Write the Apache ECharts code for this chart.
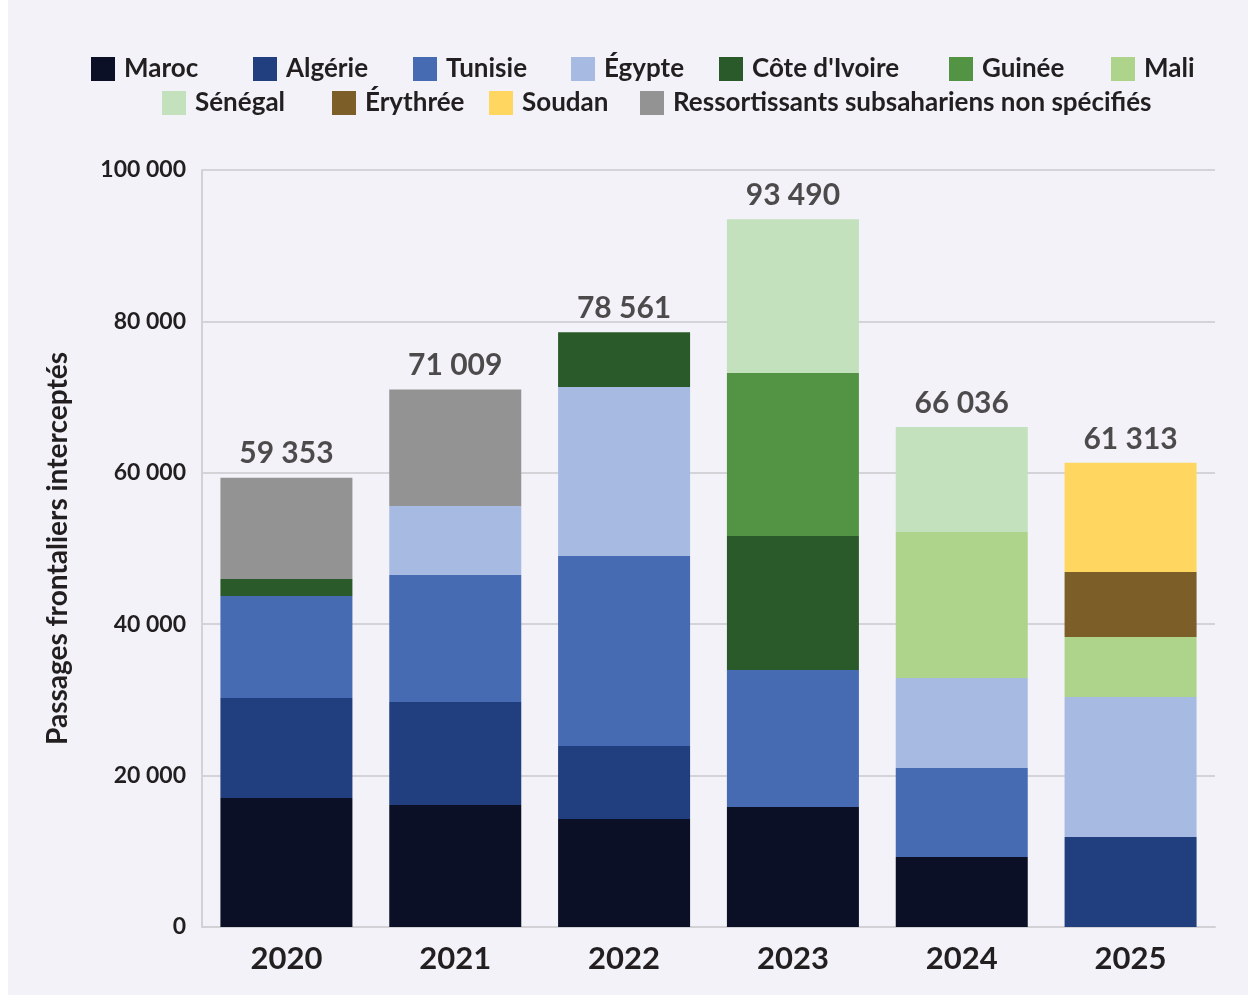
<!DOCTYPE html>
<html>
<head>
<meta charset="utf-8">
<script src="https://cdn.jsdelivr.net/npm/echarts@6/dist/echarts.min.js"></script>
<style>
  html, body { margin: 0; padding: 0; background: #ffffff; }
  #main { position: absolute; left: 8px; top: 0; width: 1240px; height: 995px; background: #f2f2f8; }
</style>
</head>
<body>
<div id="main"></div>
<script>
// years and totals
var years = ['2020', '2021', '2022', '2023', '2024', '2025'];
var totals = [59353, 71009, 78561, 93490, 66036, 61313];

// series values, bottom to top of the stack
var maroc = [17040, 16120, 14270, 15850, 9250, 0];
var algerie = [13210, 13610, 9640, 0, 0, 11890];
var tunisie = [13470, 16780, 25100, 18100, 11760, 0];
var egypte = [0, 9110, 22320, 0, 11890, 18490];
var coteIvoire = [2250, 0, 7230, 17700, 0, 0];
var guinee = [0, 0, 0, 21530, 0, 0];
var mali = [0, 0, 0, 0, 19290, 7930];
var senegal = [0, 0, 0, 20310, 13860, 0];
var erythree = [0, 0, 0, 0, 0, 8590];
var soudan = [0, 0, 0, 0, 0, 14420];
var nonSpecifies = [13380, 15400, 0, 0, 0, 0];

var names = ['Maroc', 'Algérie', 'Tunisie', 'Égypte', "Côte d'Ivoire", 'Guinée', 'Mali',
  'Sénégal', 'Érythrée', 'Soudan', 'Ressortissants subsahariens non spécifiés'];
var values = [maroc, algerie, tunisie, egypte, coteIvoire, guinee, mali,
  senegal, erythree, soudan, nonSpecifies];
var colors = ['#0c1027', '#213e7e', '#466bb3', '#a7bbe2', '#2b5a2a', '#529443', '#aed48c',
  '#c3e1bc', '#7b5e28', '#ffd65f', '#939393'];

// legend item positions (icon left, row top) inside the chart div
var legendLeft = [83, 245, 405, 563, 711, 941, 1103, 154, 324, 481, 632];
var legendTop = [56, 56, 56, 56, 56, 56, 56, 90, 90, 90, 90];

var font = 'Lato, "Noto Sans", sans-serif';
var txt = '#231f20';

function fmt(v) {
    return String(v).replace(/\B(?=(\d{3})+(?!\d))/g, ' ');
}

var chart = echarts.init(document.getElementById('main'));

var series = names.map(function (n, i) {
    return {
        name: n,
        type: 'bar',
        stack: 'total',
        barWidth: 132,
        itemStyle: { color: colors[i] },
        data: values[i].map(function (v) { return v === 0 ? null : v; })
    };
});
series.push({
    name: 'Total',
    type: 'scatter',
    symbolSize: 0,
    silent: true,
    label: {
        show: true,
        position: 'top',
        distance: 9,
        fontFamily: font,
        fontWeight: 'bold',
        fontSize: 30,
        color: txt,
        formatter: function (p) { return fmt(p.value); }
    },
    data: totals
});

var option = {
    animation: false,
    legend: names.map(function (n, i) {
        return {
            data: [n],
            left: legendLeft[i],
            top: legendTop[i],
            padding: 0,
            itemWidth: 24,
            itemHeight: 24,
            icon: 'rect',
            selectedMode: false,
            textStyle: { fontFamily: font, fontWeight: 'bold', fontSize: 26, color: txt, padding: [0, 0, 0, 4] }
        };
    }),
    grid: { left: 194, right: 33, top: 170, bottom: 68, containLabel: false },
    xAxis: {
        type: 'category',
        data: years,
        axisLine: { show: true, lineStyle: { color: '#d2d2d6', width: 2 } },
        axisTick: { show: false },
        axisLabel: { fontFamily: font, fontWeight: 'bold', fontSize: 31, color: txt, margin: 16 }
    },
    yAxis: {
        type: 'value',
        min: 0,
        max: 100000,
        interval: 20000,
        name: 'Passages frontaliers interceptés',
        nameLocation: 'middle',
        nameGap: 130,
        nameTextStyle: { fontFamily: font, fontWeight: 'bold', fontSize: 28, color: txt },
        axisLine: { show: true, lineStyle: { color: '#d2d2d6', width: 2 } },
        axisTick: { show: false },
        splitLine: { lineStyle: { color: '#d4d4d8', width: 2 } },
        axisLabel: {
            fontFamily: font, fontWeight: 'bold', fontSize: 23, color: txt, margin: 16,
            formatter: function (v) { return fmt(v); }
        }
    },
    series: series
};
chart.setOption(option);
</script>
</body>
</html>
